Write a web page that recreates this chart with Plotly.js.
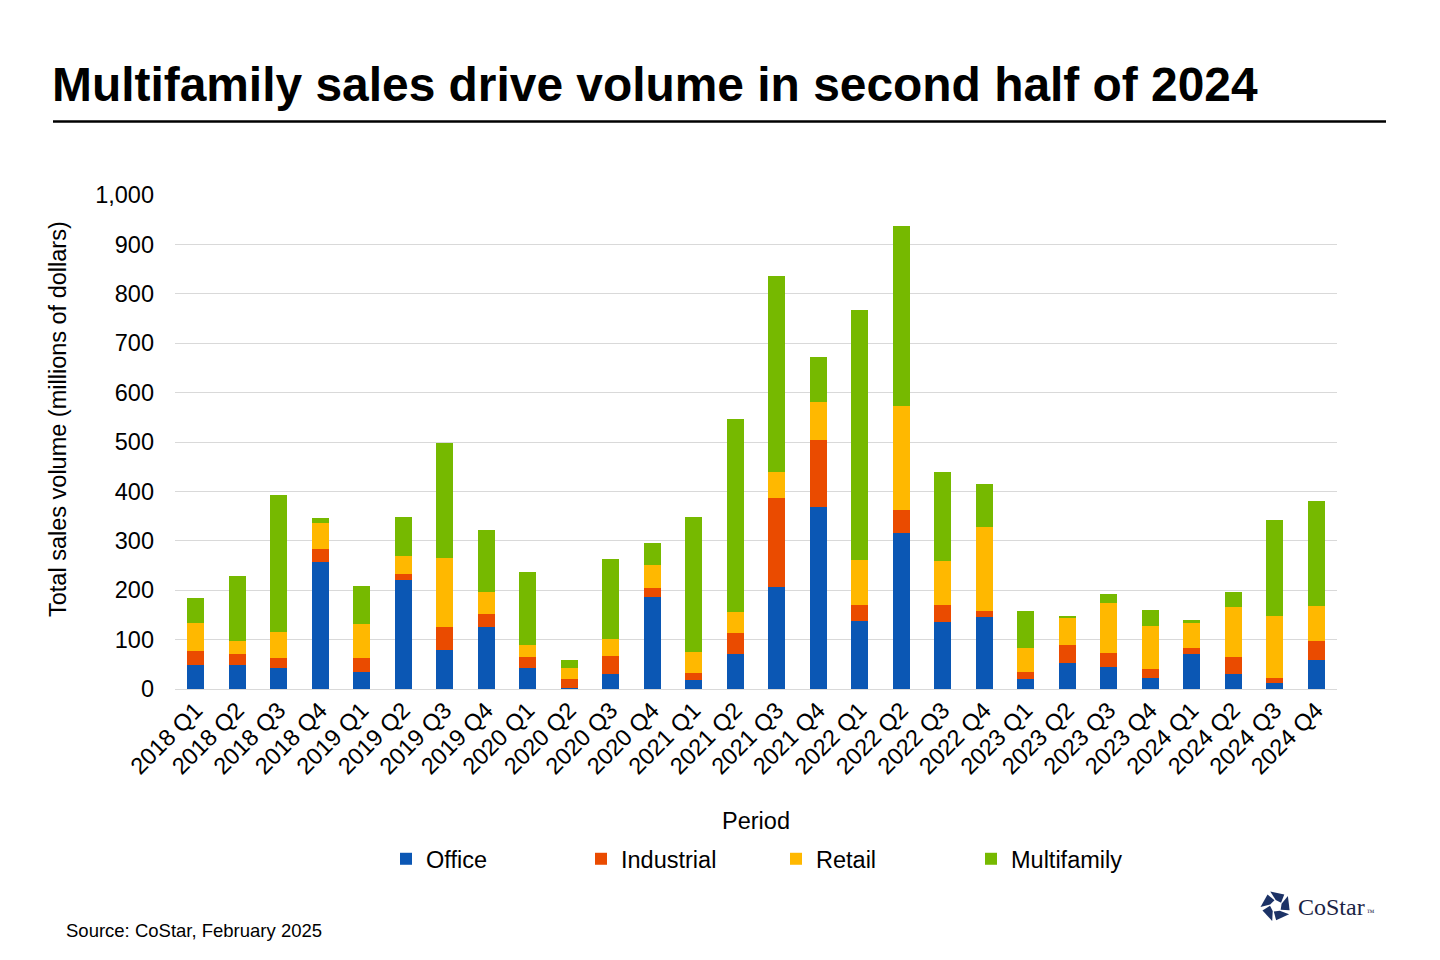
<!DOCTYPE html>
<html>
<head>
<meta charset="utf-8">
<script src="https://cdn.plot.ly/plotly-3.0.1.min.js"></script>
<style>
  html, body { margin: 0; padding: 0; background: #fff; }
  #chart { width: 1440px; height: 960px; outline: 1px solid #c8c8c8; outline-offset: -1px; }
</style>
</head>
<body>
<div id="chart"></div>
<script>
const periods = [
  '2018 Q1', '2018 Q2', '2018 Q3', '2018 Q4',
  '2019 Q1', '2019 Q2', '2019 Q3', '2019 Q4',
  '2020 Q1', '2020 Q2', '2020 Q3', '2020 Q4',
  '2021 Q1', '2021 Q2', '2021 Q3', '2021 Q4',
  '2022 Q1', '2022 Q2', '2022 Q3', '2022 Q4',
  '2023 Q1', '2023 Q2', '2023 Q3', '2023 Q4',
  '2024 Q1', '2024 Q2', '2024 Q3', '2024 Q4',
];

// millions of dollars
const office =      [49, 49, 43, 257, 34, 221, 79, 126, 43, 3, 30, 186, 18, 71, 206, 368, 138, 316, 136, 146, 20, 53, 45, 22, 71, 30, 12, 59];
const industrial =  [28, 22, 20, 26, 29, 12, 47, 26, 22, 17, 37, 18, 14, 42, 180, 136, 32, 46, 34, 12, 14, 36, 28, 18, 12, 35, 10, 38];
const retail =      [57, 27, 52, 53, 69, 36, 139, 44, 24, 22, 34, 47, 43, 43, 53, 77, 91, 211, 89, 170, 49, 55, 101, 88, 51, 101, 126, 71];
const multifamily = [50, 131, 278, 10, 76, 79, 233, 126, 148, 17, 162, 45, 273, 391, 397, 91, 506, 364, 180, 87, 75, 2, 18, 32, 6, 30, 194, 212];

const font = 'Liberation Sans, Arial, sans-serif';
const fs = 23.5;

// plot area in pixels, used to place the decorations
const L = 175, R = 1337, T = 195, B = 689;
const px = (x) => (x - L) / (R - L);
const py = (y) => (B - y) / (B - T);

function series(name, y, color) {
  return {
    type: 'bar',
    name: name,
    x: periods,
    y: y,
    marker: { color: color },
    hoverinfo: 'x+y+name',
  };
}

const data = [
  series('Office', office, '#0b57b4'),
  series('Industrial', industrial, '#ea4b00'),
  series('Retail', retail, '#ffb800'),
  series('Multifamily', multifamily, '#76b900'),
];

// CoStar mark: five pieces in a ring
const logoShapes = [];
const cx = 1276, cy = 906, ro = 15.5, ri = 6;
for (let i = 0; i < 5; i++) {
  const a = (-90 + i * 72) * Math.PI / 180;
  const pts = [
    [a - 0.38, ro], [a + 0.62, ro * 0.92], [a + 1.0, ri], [a - 0.05, ri],
  ].map(([t, r]) => [px(cx + r * Math.cos(t)), py(cy + r * Math.sin(t))]);
  logoShapes.push({
    type: 'path', xref: 'paper', yref: 'paper',
    path: 'M' + pts.map(p => p[0] + ',' + p[1]).join('L') + 'Z',
    fillcolor: '#1c3266', line: { width: 0 },
  });
}

const layout = {
  width: 1440,
  height: 960,
  margin: { l: L, r: 1440 - R, t: T, b: 960 - B },
  paper_bgcolor: '#fff',
  plot_bgcolor: '#fff',
  font: { family: font, color: '#000', size: fs },
  title: {
    text: '<b>Multifamily sales drive volume in second half of 2024</b>',
    font: { family: font, size: 47.9, color: '#000' },
    xref: 'container', yref: 'container',
    x: 52 / 1440, xanchor: 'left',
    y: 1 - 84 / 960, yanchor: 'middle',
  },
  barmode: 'stack',
  bargap: 0.59,
  xaxis: {
    type: 'category',
    tickangle: -45,
    tickfont: { size: fs },
    ticklabelstandoff: 2,
    showgrid: false,
    showline: false,
    zeroline: false,
    ticks: '',
    automargin: false,
    title: { text: 'Period', font: { size: fs }, standoff: 34 },
  },
  yaxis: {
    range: [0, 1000],
    dtick: 100,
    tickformat: ',d',
    tickfont: { size: fs },
    ticklabelstandoff: 20,
    gridcolor: '#d9d9d9',
    gridwidth: 1,
    zeroline: true,
    zerolinecolor: '#d9d9d9',
    zerolinewidth: 1,
    showline: false,
    ticks: '',
    automargin: false,
  },
  legend: {
    orientation: 'h',
    traceorder: 'normal',
    x: px(386), xanchor: 'left',
    y: py(859), yanchor: 'middle',
    entrywidth: 150,
    entrywidthmode: 'pixels',
    font: { size: fs },
    bgcolor: 'rgba(0,0,0,0)',
  },
  shapes: [
    {
      type: 'line', xref: 'paper', yref: 'paper',
      x0: px(53), x1: px(1386), y0: py(121.5), y1: py(121.5),
      line: { color: '#000', width: 2.5 },
    },
  ].concat(logoShapes),
  annotations: [
    {
      text: 'Total sales volume (millions of dollars)',
      xref: 'paper', yref: 'paper',
      x: px(58), y: py(419), xanchor: 'center', yanchor: 'middle',
      textangle: -90,
      showarrow: false,
      font: { size: fs, color: '#000' },
    },
    {
      text: 'Source: CoStar, February 2025',
      xref: 'paper', yref: 'paper',
      x: px(64), y: py(930), xanchor: 'left', yanchor: 'middle',
      showarrow: false,
      font: { size: 18.5, color: '#000' },
    },
    {
      text: 'CoStar<span style="font-size:8px"> ™</span>',
      xref: 'paper', yref: 'paper',
      x: px(1296), y: py(907), xanchor: 'left', yanchor: 'middle',
      showarrow: false,
      font: { family: 'Liberation Serif, Times New Roman, serif', size: 24, color: '#1b2445' },
    },
  ],
};

Plotly.newPlot('chart', data, layout, { displayModeBar: false, responsive: false });
</script>
</body>
</html>
